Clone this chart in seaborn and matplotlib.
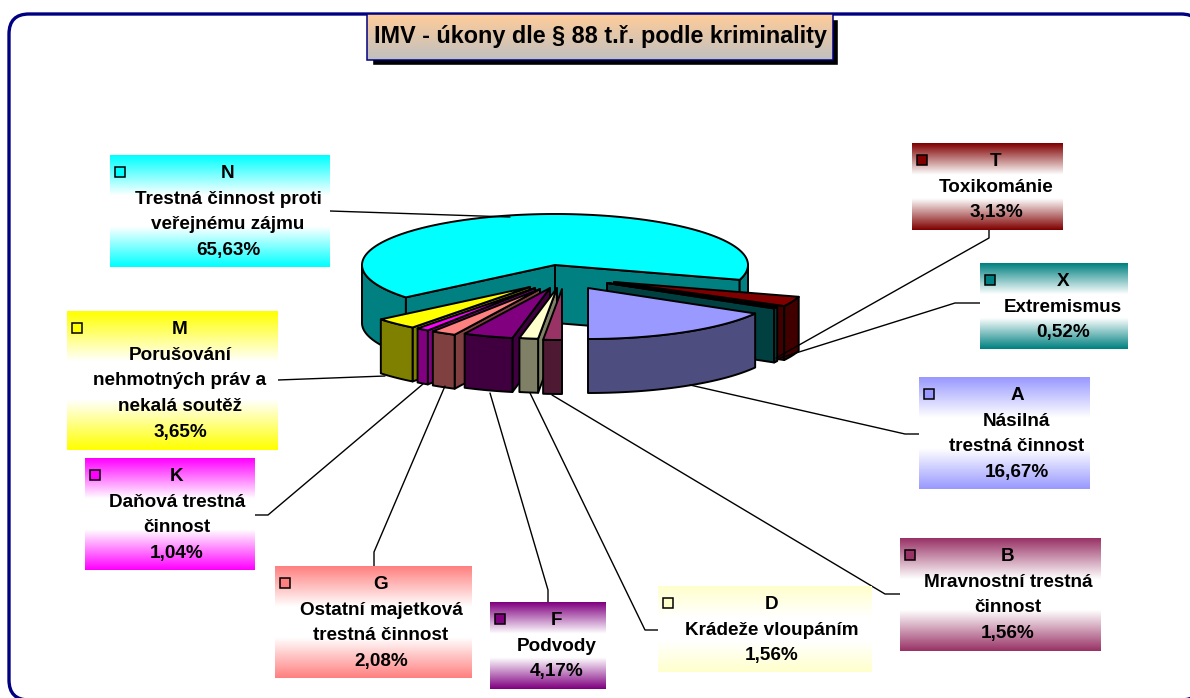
"""IMV - exploded 3D style pie with gradient callouts."""

import matplotlib
matplotlib.use('Agg')
import matplotlib.pyplot as plt
import numpy as np
import seaborn as sns
from matplotlib.colors import LinearSegmentedColormap
from matplotlib.patches import FancyBboxPatch, Polygon, Rectangle

title = 'IMV - úkony dle § 88 t.ř. podle kriminality'
codes = ['T', 'X', 'A', 'B', 'D', 'F', 'G', 'K', 'M', 'N']
names = [
    ['Toxikománie'],
    ['Extremismus'],
    ['Násilná', 'trestná činnost'],
    ['Mravnostní trestná', 'činnost'],
    ['Krádeže vloupáním'],
    ['Podvody'],
    ['Ostatní majetková', 'trestná činnost'],
    ['Daňová trestná', 'činnost'],
    ['Porušování', 'nehmotných práv a', 'nekalá soutěž'],
    ['Trestná činnost proti', 'veřejnému zájmu'],
]
shares = [3.13, 0.52, 16.67, 1.56, 1.56, 4.17, 2.08, 1.04, 3.65, 65.63]
share_labels = ['3,13%', '0,52%', '16,67%', '1,56%', '1,56%', '4,17%', '2,08%', '1,04%', '3,65%', '65,63%']

top_colors = ['#800000', '#008080', '#9999FF', '#993366', '#FFFFCC',
              '#800080', '#FF8080', '#FF00FF', '#FFFF00', '#00FFFF']
side_colors = ['#400000', '#004040', '#4D4D80', '#4D1933', '#808066',
               '#400040', '#804040', '#800080', '#808000', '#008080']

# layout, in pixels of the 1190x698 picture
apex = [(614, 282), (607, 283), (588, 288), (562, 289), (557, 288),
        (550, 288), (540, 289), (535, 288), (530, 287), (555, 265)]
depths = [54, 54, 54, 54, 54, 54, 54, 54, 54, 58]
boxes = [(912, 143, 1063, 230), (980, 263, 1128, 349), (919, 377, 1090, 489),
         (900, 538, 1101, 651), (658, 586, 872, 672), (490, 602, 606, 689),
         (275, 566, 472, 678), (85, 458, 255, 570), (67, 311, 278, 450),
         (110, 155, 330, 267)]
text_x = [996, 1063, 1017, 1008, 772, 557, 381, 177, 180, 228]
leaders = [
    [(989, 230), (989, 238), (776, 358)],
    [(980, 303), (955, 303), (780, 358)],
    [(919, 434), (905, 434), (690, 385)],
    [(900, 594), (885, 594), (552, 395)],
    [(658, 630), (645, 630), (530, 393)],
    [(548, 602), (548, 590), (490, 393)],
    [(374, 566), (374, 552), (445, 386)],
    [(255, 515), (268, 515), (423, 384)],
    [(278, 380), (385, 376)],
    [(330, 211), (510, 217)],
]
RX, RY = 193, 51
LINE_STEP = 25.7
FONT = 'Liberation Sans'


def rim(center, angles):
    """Rim points for clockwise-from-north angles in degrees."""
    rad = np.radians(angles)
    return np.column_stack([center[0] + RX * np.sin(rad), center[1] - RY * np.cos(rad)])


def draw_slice(ax, center, start, end, depth, top, side):
    edge = dict(edgecolor='black', linewidth=1.4, joinstyle='round')
    for angle, visible in ((start, np.sin(np.radians(start)) < -1e-6),
                           (end, np.sin(np.radians(end)) > 1e-6)):
        if visible:
            p = rim(center, np.array([angle]))[0]
            pts = [center, p, (p[0], p[1] + depth), (center[0], center[1] + depth)]
            ax.add_patch(Polygon(pts, facecolor=side, **edge))
    # the part of the outer wall that faces the viewer
    for lo, hi in ((90, 270), (450, 630)):
        a, b = max(start, lo), min(end, hi)
        if b > a:
            arc = rim(center, np.linspace(a, b, 60))
            pts = np.vstack([arc, (arc + [0, depth])[::-1]])
            ax.add_patch(Polygon(pts, facecolor=side, **edge))
    arc = rim(center, np.linspace(start, end, 180))
    ax.add_patch(Polygon(np.vstack([[center], arc]), facecolor=top, **edge))


def gradient_box(ax, box, color):
    x0, y0, x1, y1 = box
    cmap = LinearSegmentedColormap.from_list(
        'band', [(0, color), (0.36, 'white'), (0.64, 'white'), (1, color)])
    ax.imshow(np.linspace(0, 1, 128).reshape(-1, 1), cmap=cmap, aspect='auto',
              extent=(x0, x1, y1, y0), zorder=3)


sns.set_theme(style='white')
plt.rcParams['font.family'] = [FONT, 'DejaVu Sans']

fig = plt.figure(figsize=(11.9, 6.98), dpi=100)
ax = fig.add_axes([0, 0, 1, 1])
ax.set_axis_off()

# frame runs off the right and bottom of the picture
ax.add_patch(FancyBboxPatch((9, 14), 1192, 686, boxstyle='round,pad=0,rounding_size=20',
                            facecolor='white', edgecolor='#000080', linewidth=2.4, zorder=0))

# pie, clockwise from T; A ends straight down at the front
edges = 180 - 3.6 * sum(shares[:3]) + 3.6 * np.concatenate([[0], np.cumsum(shares)])
draw_order = [9, 0, 1, 2, 8, 7, 6, 5, 4, 3]
for i in draw_order:
    draw_slice(ax, apex[i], edges[i], edges[i + 1], depths[i], top_colors[i], side_colors[i])

# leader lines
for points in leaders:
    xs, ys = zip(*points)
    sns.lineplot(x=list(xs), y=list(ys), sort=False, estimator=None, color='black',
                 linewidth=1.0, ax=ax, zorder=2)

# callouts
for i, box in enumerate(boxes):
    gradient_box(ax, box, top_colors[i])
    ax.add_patch(Rectangle((box[0] + 4.5, box[1] + 12), 10, 10, facecolor=top_colors[i],
                           edgecolor='black', linewidth=1.1, zorder=4))
    lines = [codes[i]] + names[i] + [share_labels[i]]
    for n, line in enumerate(lines):
        ax.text(text_x[i], box[1] + 18.5 + n * LINE_STEP, line, ha='center', va='center',
                fontsize=13.6, fontweight='bold', color='black', zorder=5)

# title box
ax.add_patch(Rectangle((372, 19), 466, 46, facecolor='black', zorder=3))
title_cmap = LinearSegmentedColormap.from_list('title', ['#FFCC99', '#C0C0C0'])
ax.imshow(np.linspace(0, 1, 64).reshape(-1, 1), cmap=title_cmap, aspect='auto',
          extent=(367, 833, 60, 14), zorder=4)
ax.add_patch(Rectangle((367, 14), 466, 46, facecolor='none', edgecolor='#000080',
                       linewidth=1.1, zorder=5))
ax.text(600, 37, title, ha='center', va='center', fontsize=16.8, fontweight='bold',
        color='black', zorder=6)

ax.set_xlim(0, 1190)
ax.set_ylim(698, 0)
fig.savefig('out.png', dpi=100, facecolor='white')
